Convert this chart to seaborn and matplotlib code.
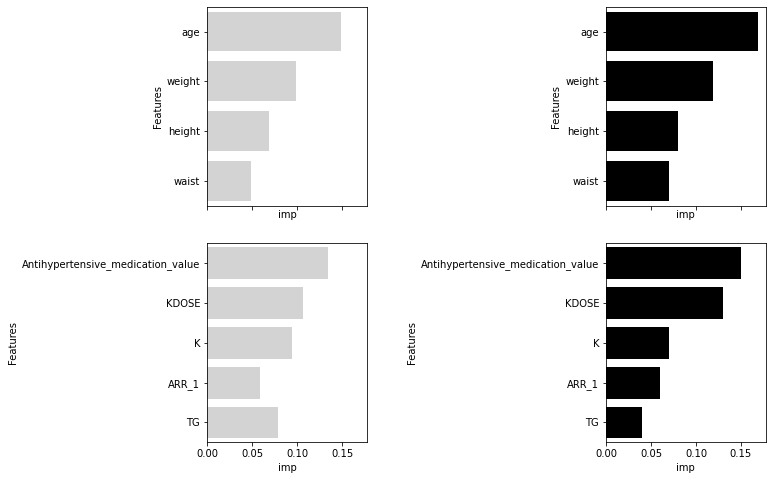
import pandas as pd
import matplotlib
matplotlib.use('Agg')
import matplotlib.pyplot as plt
import seaborn as sns

# importancias
feat_top = ['age', 'weight', 'height', 'waist']
imp_top_left = [0.149, 0.099, 0.069, 0.049]
imp_top_right = [0.169, 0.119, 0.080, 0.070]

feat_bottom = ['Antihypertensive_medication_value', 'KDOSE', 'K', 'ARR_1', 'TG']
imp_bottom_left = [0.134, 0.106, 0.094, 0.058, 0.078]
imp_bottom_right = [0.150, 0.130, 0.070, 0.060, 0.040]


def barras(ax, features, imp, color):
    df = pd.DataFrame({'Features': features, 'imp': imp})
    sns.barplot(ax=ax, data=df, x='imp', y='Features', color=color, saturation=1)


fig, ax = plt.subplots(nrows=2, ncols=2, sharex=True, figsize=(771 / 72, 480 / 72), dpi=72)
barras(ax[0, 0], feat_top, imp_top_left, 'lightgray')
barras(ax[0, 1], feat_top, imp_top_right, 'black')
barras(ax[1, 0], feat_bottom, imp_bottom_left, 'lightgray')
barras(ax[1, 1], feat_bottom, imp_bottom_right, 'black')

for a in ax.flat:
    a.set_xticks([0.0, 0.05, 0.10, 0.15])
    a.set_xlabel('imp')
    a.xaxis.label.set_visible(True)
    a.set_ylabel('Features')
for a in ax[0]:
    a.set_xlabel('imp', labelpad=1)
ax[1, 0].set_xticklabels(['0.00', '0.05', '0.10', '0.15'])

fig.subplots_adjust(left=0.2689, right=0.9931, top=0.986, bottom=0.0785, wspace=1.497, hspace=0.19)
plt.savefig('out.png', dpi=72)
